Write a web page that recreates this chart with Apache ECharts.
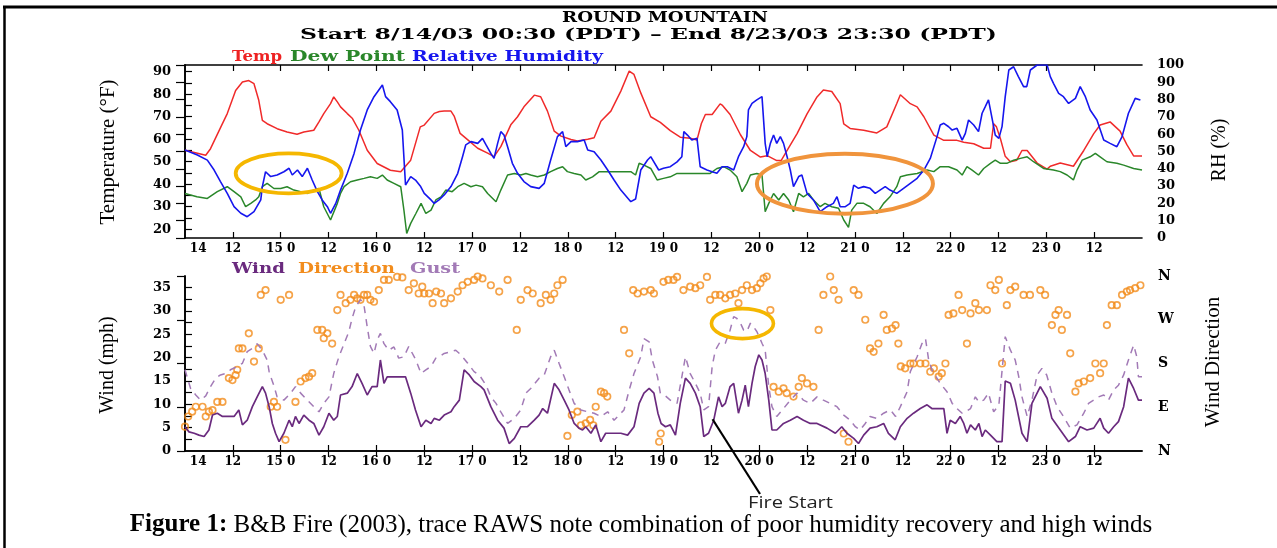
<!DOCTYPE html>
<html>
<head>
<meta charset="utf-8">
<script src="https://cdn.jsdelivr.net/npm/echarts@6/dist/echarts.min.js"></script>
<style>
  html, body { margin: 0; padding: 0; background: #fff; }
  #chart { width: 1277px; height: 548px; }
</style>
</head>
<body>
<div id="chart"></div>
<script>
// Hourly RAWS trace, Round Mountain, 8/14/03 00:30 – 8/23/03 23:30 (PDT).
// x = hours since 8/14 00:00.

const tempF = [[0,55.1],[5.2,52.9],[6.4,55.8],[9,65.5],[10.6,71.4],[12.7,81.7],[14.4,85.4],[16,86.1],[17.3,84.7],[18.5,77.3],[19.4,68.4],[20.6,66.9],[23.1,64.7],[25.6,63.2],[28.1,62.2],[29.8,63.2],[32.3,64],[33.6,67.7],[34.8,71.4],[36.5,75.8],[37.3,78.8],[38.2,76.6],[39,74.4],[40.7,71.4],[42,69.2],[43.6,64],[45.7,55.1],[48.2,49.2],[51.5,46.2],[54.1,45.5],[56.6,50.7],[59,65.5],[60,66.3],[62.5,71.5],[63.8,72.3],[65,72.5],[66.7,72.5],[67.5,70.3],[69,62.6],[71,59.6],[73.4,56],[75.9,53.8],[77.5,52.3],[79.2,56.7],[81.7,66.4],[83.4,70],[85,74.4],[87.6,79.6],[89.2,78.9],[90.9,72.5],[92.6,63.6],[94.3,61.4],[96.8,59.9],[98.4,59.2],[101,60],[102.6,60.7],[104.3,68],[106.8,72.5],[109.3,81.4],[111.4,90.3],[112.6,88.8],[114.3,80.6],[116.8,70],[119.2,67.5],[121.7,63.8],[124.2,60.9],[126.7,60.4],[128.4,59.7],[129.5,67],[130.5,71],[132.2,71],[134.2,75.7],[134.8,75],[136.7,71],[139.3,62],[141.8,55],[144.3,52.1],[146,52.7],[148.4,50.5],[149.5,50.5],[151,55],[153.5,62.5],[156,71.3],[158.5,78.8],[160.1,81.9],[162.2,81.2],[164.3,75.8],[165.2,66.8],[166.8,64.8],[170.2,64],[173.5,62.8],[176,65.5],[178.5,75.9],[179.4,79.8],[181.9,75.8],[183.6,74.4],[185.3,70],[187.8,61.8],[190.3,59.5],[193.6,59.5],[195.3,58.7],[197.8,58],[200.3,56],[202,56],[202.8,66.9],[203.5,65.5],[204.5,60.2],[205.7,52.4],[207,50],[208.6,50.7],[209.9,55],[211.2,55],[213.7,49.4],[216.2,46.7],[217,48],[219.5,49.4],[222.8,48],[225.4,55],[227.9,62.5],[229.5,66.3],[232,67.7],[234.5,63.6],[236.2,57.6],[237.9,52.6],[240,52.6]];

const dewPointF = [[0,35.9],[3,34.4],[5.6,33.7],[8.1,36.7],[10.6,38.9],[12.3,36.7],[14,34.4],[15.2,30],[16.5,31.5],[17.7,33],[18.5,34.4],[19.4,38.9],[20.6,40.4],[22.3,38.1],[24,38.1],[25.6,38.9],[27.3,37.4],[29,36.7],[30.7,35.9],[32.3,37.4],[33.6,38.1],[34.8,30],[36.5,24.1],[38.2,31.5],[39,35.9],[39.9,38.9],[41.5,41.1],[43.2,41.9],[44.9,42.6],[46.5,43.3],[48.2,42.6],[49.5,44.1],[50.7,41.9],[52.4,40.4],[54.1,38.9],[54.9,28.5],[55.6,18.1],[56.6,22.6],[57.9,27],[59.2,31.5],[60.4,27],[61.7,28.5],[62.9,33],[64.2,34.4],[65.4,37.4],[67,36.7],[68.4,38.9],[70,40.4],[71.7,38.9],[73,39.6],[74.6,38.9],[75.9,35.9],[78,32.2],[79.2,37.4],[80.9,44.1],[82.6,44.8],[84.2,44.1],[85.5,44.8],[86.7,44.1],[88.4,43.3],[90.1,44.1],[91.7,45.6],[93.4,47],[94.7,47.8],[95.9,45.6],[97.6,44.8],[99.3,44.1],[100.5,41.9],[102.2,43.3],[103.9,45.6],[106,45.6],[108.5,45.6],[111.8,45.6],[113,44.1],[113.9,49.3],[115.1,48.5],[116.8,47],[118.4,41.9],[120,42.6],[121.7,43.3],[123.4,44.8],[125.2,44.8],[127.6,44.8],[129.2,44.8],[131.7,44.8],[133.4,47],[135.1,47.8],[136.7,46.3],[138.4,43.3],[139.7,36.7],[140.9,40.4],[141.8,44.1],[143.4,44.8],[144.7,44.1],[145.5,27.8],[146.4,31.5],[147.6,35.9],[148.9,33],[150.1,35.9],[151.4,33],[152.6,27.8],[153.9,35.9],[155.1,34.4],[156.4,35.9],[157.6,33],[159.3,30],[160.5,31.5],[162.2,30],[163.9,29.3],[165.2,24.1],[166.4,20.8],[167.2,28.5],[168.5,31.5],[170.2,31.5],[171.8,30],[173.5,27],[175.2,31.5],[176.8,34.4],[178.5,38.9],[179.4,43.3],[181.1,44.1],[183.6,44.8],[186.1,46.3],[187.8,45.6],[189.4,47.8],[191.5,47.8],[193.6,46.3],[194.9,44.1],[196.1,47.8],[197.4,46.3],[199,44.1],[200.3,47],[202,49.3],[203.2,50.7],[204.5,49.3],[206.1,49.3],[207.8,50.7],[209.5,51.5],[211.2,52.2],[212.8,50],[215.3,47],[217.8,46.3],[219.5,45.6],[221.2,44.1],[222.8,41.9],[223.7,46.3],[225,50.7],[227,52.2],[228.3,53.7],[229.5,52.2],[231.2,50],[233.7,49.3],[235.4,48.5],[237.9,47],[240,46.3]];

const relHumidity = [[0,50.9],[3.1,48],[5.6,45],[7.3,39.3],[8.9,32.6],[10.6,25.8],[12.3,18.1],[14,14.3],[15.6,12.3],[17.3,15.2],[19,22],[19.4,29.7],[20.2,38.3],[21.5,35.5],[23.1,36.4],[24.8,38.3],[26.1,40.3],[26.9,36.4],[28.2,39.3],[29.4,35.5],[30.7,40.3],[31.9,33.5],[33.2,26.8],[34.4,22],[35.7,18.1],[36.5,14.3],[37.8,20],[39,27.7],[40.7,37.4],[42.4,48.9],[44,62.4],[45.7,74],[47.4,81.7],[49.5,88.4],[50.3,81.7],[51.5,78.8],[53.2,74],[54.5,62.4],[55.3,30.6],[56.6,35.5],[57.8,33.5],[59.1,29.7],[60,25.8],[61.7,22],[62.5,20],[63.7,22],[65,24.9],[66.7,29.7],[68.4,37.4],[69.6,47],[70.4,53.8],[71.7,55.7],[73.4,54.7],[74.6,57.6],[75.5,53.8],[76.7,48.9],[77.5,46],[78.4,54.7],[79.2,61.5],[80,59.5],[80.9,52.8],[82.1,43.2],[83.4,37.4],[85,32.6],[86.7,29.7],[88.8,28.7],[90.1,31.6],[91.7,45.1],[93.4,58.6],[94.7,61.5],[95.5,52.8],[96.8,55.7],[98.4,55.7],[100.1,56.6],[101,50.9],[102.6,49.9],[104.3,45.1],[106,39.3],[107.6,33.5],[109.3,27.7],[111.8,21],[113,22.5],[114.3,39.3],[116,45.1],[116.8,47],[118.8,39.3],[120,40.3],[121.7,41.2],[123.4,44],[124.6,47],[125.1,61.5],[126,59.5],[127.1,56.6],[128.4,57.6],[129.2,41.2],[130.9,39.3],[132.2,38.3],[133.4,37.4],[134.7,41.2],[136,41.2],[137.6,39.3],[138.8,47],[140.1,52.8],[140.9,58.6],[141.3,74],[142.2,77.8],[143.4,79.8],[144.7,81.7],[145.5,54.7],[146,47],[146.8,54.7],[147.6,59.5],[148.4,54.7],[149.3,58.6],[150.1,54.7],[151,47],[151.8,39.3],[152.6,29.7],[153.9,35.5],[154.7,36.4],[156,25.8],[157.6,22],[159.3,15.2],[161,18.1],[162.6,20],[163.5,23.9],[164.3,18.1],[165.6,18.1],[166.8,20],[167.7,30.6],[168.9,28.7],[170.2,29.7],[171.8,28.7],[173.1,25.8],[174.3,27.7],[175.6,29.7],[176.8,27.7],[178.5,25.8],[180.2,28.7],[181.9,31.6],[183.6,34.5],[185.3,39.3],[186.9,46],[188.6,58.6],[189.4,65.3],[190.3,66.3],[191.5,64.3],[192.4,62.4],[193.6,63.4],[194.9,56.6],[195.7,60.5],[196.5,68.2],[197.8,65.3],[199,61.5],[199.9,72.1],[200.7,75.9],[201.5,79.8],[202.4,69.2],[203.2,59.5],[204.1,57.6],[204.9,64.4],[205.7,81.7],[206.6,97.1],[207.8,99],[209,93.3],[210.3,87.5],[211.1,87.5],[212,97.1],[213.7,100],[216.2,100],[217,93.3],[217.8,89.4],[219.1,83.6],[220.3,81.7],[221.6,77.8],[223.3,80.7],[224.5,87.5],[225.8,81.7],[227,74],[228.7,68.2],[230.4,56.6],[232,54.7],[233.7,52.8],[235,58.6],[236.6,72.1],[238.3,80.7],[239.6,79.8]];

const windMph = [[0,5.2],[1,4.1],[2.3,3.8],[3.5,3.4],[4.8,3.1],[6,4.5],[6.9,7.7],[8.1,8.1],[9.4,7.4],[10.6,7.4],[12.3,7.4],[13.5,8.8],[14.4,5.6],[15.6,6.6],[16.9,9.5],[18.1,11.6],[19.4,13.8],[20.2,12.4],[21.1,9.5],[21.9,5.9],[22.7,3.8],[23.6,2],[24.8,3.8],[26.1,6.6],[26.9,5.2],[27.7,7.4],[28.6,5.9],[29.8,7.7],[31.1,6.6],[32.3,5.9],[33.6,3.4],[34.8,5.2],[36.1,8.1],[37.3,6.6],[38.2,7.4],[39,12],[40.7,12.4],[41.9,13.8],[43.2,16.6],[44.4,14.5],[45.7,12],[46.9,13.8],[48.2,13.8],[49,19.5],[49.9,14.5],[50.7,15.9],[52,15.9],[54.1,15.9],[55.3,15.9],[56.6,12.4],[57.8,8.8],[59.2,5.2],[60.4,6.6],[61.7,5.9],[62.5,7],[63.8,6.6],[65,7.7],[66.7,8.4],[67.5,9.5],[68.8,10.9],[70,17.4],[71.3,16.3],[72.5,14.9],[74.2,13.8],[75,13.1],[76.7,9.5],[78.4,6.6],[80,4.9],[81.3,1.6],[82.6,2.7],[84.2,5.2],[85.9,5.2],[87.6,6.6],[88.8,7.7],[89.7,9.1],[90.9,8.1],[92.6,14.5],[93.8,13.1],[95.1,10.9],[96.3,8.8],[97.6,5.9],[98.8,4.9],[99.7,4.5],[100.5,5.2],[101.8,3.8],[103,5.6],[104.3,2],[105.5,3.8],[107.6,3.8],[109.3,3.8],[111,3.4],[112.6,5.2],[113.9,10.2],[115.1,12.4],[116.4,13.4],[117.6,12.4],[118.6,8.1],[119.4,5.9],[120.5,5.2],[121.7,5.6],[123,3.4],[124.2,10.2],[125.5,15.6],[126.7,14.5],[128,12.4],[129.2,9.5],[130.1,3.1],[131.3,3.8],[132.6,6.6],[133.8,11.6],[134.7,9.5],[135.5,10.2],[136.7,13.8],[137.6,14.5],[138.8,8.1],[139.7,10.9],[140.5,14.1],[141.3,9.5],[142.2,14.5],[143,18.1],[143.9,20.6],[144.7,19.5],[145.5,16.6],[146.4,10.9],[147.2,4.5],[148.4,4.5],[150.1,5.9],[151.8,6.6],[153.5,7.4],[155.1,6.6],[156.8,5.9],[158.5,5.9],[161,4.9],[163.1,3.8],[164.7,5.2],[166,3.8],[167.7,2.7],[168.9,1.6],[170.2,3.4],[171.8,4.9],[173.5,5.2],[175.2,5.9],[176.4,3.8],[178.1,2.4],[179.4,5.2],[181.1,7],[182.7,8.1],[184.4,9.1],[186.1,9.9],[187.3,9.1],[188.6,9.1],[190.3,9.1],[191.1,3.8],[191.9,6.6],[193.2,5.9],[194.4,7.4],[195.3,5.9],[196.1,3.8],[197,5.6],[198.2,4.5],[199.1,5.9],[199.9,3.1],[200.7,4.5],[202,3.4],[203.6,2],[204.9,2],[205.7,15],[207,14.5],[208.2,10.9],[209.9,3.8],[211.2,2],[212.4,10.2],[214.5,13.8],[216.2,11.3],[217.4,7],[219.5,4.5],[221.6,2],[223.3,3.1],[224.5,5.2],[226.2,4.5],[227.9,4.9],[229.5,7],[230.4,4.9],[231.6,3.8],[232.9,5.2],[234.1,6.3],[235.4,9.5],[236.6,15.6],[237.9,13.4],[239.1,10.9],[240,10.9]];

const gustMph = [[0,17.4],[1.4,13.4],[2.7,12],[3.9,10.9],[5.2,11.8],[6.4,13.8],[7.7,15.6],[8.9,16.3],[10.2,16.6],[11.4,17.4],[13.1,18.1],[14.4,18.8],[15.6,21.3],[16.9,22],[18.1,23],[19.4,21.6],[20.6,19.5],[21.1,17],[21.5,15.9],[22.3,14],[23.1,11.6],[24.8,10.9],[26.5,12.4],[27.7,13.8],[29,12.4],[30.7,10.9],[32.3,9.5],[33.6,8.4],[34.8,10.2],[36.1,11.6],[37.3,16.6],[38.6,20.2],[39.9,23],[41.1,25.6],[41.9,28.4],[42.8,30.9],[44,32.4],[44.8,31.7],[45.7,26.6],[46.5,22.4],[47.4,20.9],[48.2,23.8],[49,25.2],[49.9,23],[51.1,21.6],[52.4,22.3],[53.6,19.9],[54.9,20.2],[56.1,22.4],[57.9,19.5],[59.2,16.6],[60.4,17.4],[61.7,18.1],[62.9,19.9],[63.8,20.2],[65,20.9],[66.7,21.3],[67.9,21.6],[69.2,20.6],[70.9,18.8],[72.5,17],[73.8,16.3],[75.5,14.1],[76.7,11.6],[78,10.2],[79.2,8.4],[80.9,5.9],[82.6,7],[84.2,8.8],[85.5,12.4],[86.7,13.4],[88.8,15.6],[90.1,16.3],[91.7,20.2],[92.6,21.6],[93.8,18.8],[95.1,15.9],[96.3,13.1],[97.6,10.2],[99.3,8.8],[101,8.4],[102.6,8.1],[104.3,7.4],[106,8.4],[107.6,6.6],[110.1,8.8],[111.4,13.1],[112.6,16.6],[114.3,20.2],[115.1,24.1],[116.4,23.4],[117.2,19.5],[118.5,15.9],[119.2,12.4],[120.5,11.8],[121.7,10.9],[123.4,10.2],[124.6,15.9],[125.5,20.2],[126.7,16.6],[128,14.5],[129.2,12.4],[130.1,8.8],[131.3,9.5],[132.2,18.1],[133,21.6],[134.2,23.4],[135.5,23.1],[136.7,25.9],[137.6,28.8],[138.4,28.4],[139.3,27.4],[140.1,25.9],[140.9,25.6],[141.8,27.4],[142.6,26.6],[143.4,25.6],[144.7,23.1],[145.5,21.6],[146.4,13.8],[147.2,9.5],[148.4,7.4],[150.1,9.1],[151.8,10.9],[153.5,12.4],[155.1,10.9],[156.8,10.2],[158.5,11.6],[160.1,10.9],[161.8,10.2],[163.5,9.5],[165.2,7.7],[166.8,6.6],[168.1,5.2],[169.3,4.5],[170.6,5.9],[171.8,7.4],[173.5,7],[175.2,8.1],[176.9,8.8],[178.2,7.4],[179.4,9.5],[181.1,12.7],[181.9,17],[183.6,20.2],[184.8,23],[185.7,24.1],[186.5,19.5],[187.3,17.4],[188.2,16.1],[189.4,14.5],[191.1,12.7],[192.4,10.2],[193.6,9.1],[194.9,8.1],[195.7,8.4],[197,9.1],[198.2,11.6],[199.1,10.5],[200.3,10.9],[201.5,12.4],[202.8,8.4],[204.1,9.8],[205.7,24.5],[207,21.6],[208.2,19.5],[209.1,15.9],[209.9,11.6],[211.2,7.4],[212.4,10.9],[213.7,16.3],[214.9,17.7],[216.1,16.3],[217.4,12.4],[218.7,9.5],[220.3,7.4],[222,4.9],[223.7,5.6],[225.4,8.1],[226.6,10.2],[227.9,10.9],[229.1,11.6],[230.4,12],[231.6,10.9],[232.9,13.1],[234.1,14.1],[235.4,16.3],[236.6,19.5],[237.9,22.7],[238.7,20.2],[239.1,15.9],[240,15.9]];

// wind direction, degrees (0 = N, 90 = E, 180 = S, 270 = W, 360 = N)
const windDirDeg = [[0,50],[0.8,71],[1.8,81],[2.7,91],[4.4,91],[5.2,71],[6,81],[6.9,84],[8.1,101],[9.4,101],[11,150],[11.9,146],[12.7,156],[13.1,167],[13.5,211],[14.4,211],[16,242],[17.3,184],[18.5,211],[19,321],[20.2,331],[21.5,91],[22.3,101],[23.1,91],[24,311],[25.2,23],[26.1,321],[27.7,101],[29,143],[30.2,150],[31.1,153],[31.9,160],[33.2,249],[34.4,249],[34.8,232],[35.7,242],[36.9,221],[38.2,290],[39,321],[40.3,304],[41.5,311],[42.4,321],[43.2,314],[44,311],[44.9,321],[45.7,321],[46.5,311],[47.4,307],[48.6,331],[49.9,352],[51.1,352],[53.2,358],[54.5,357],[56.1,331],[57.4,345],[58.6,324],[59.5,338],[60,324],[61.2,324],[62.1,304],[63,328],[64.2,324],[65,304],[66.7,314],[68.4,328],[69.6,341],[70.9,348],[72.5,352],[73.4,359],[74.6,355],[76.7,341],[78.8,328],[80.9,352],[83.2,249],[84.2,311],[85.9,331],[87.2,324],[89.2,304],[90.5,321],[91.7,311],[92.6,324],[93.4,341],[94.7,352],[95.9,31],[97,74],[98.4,81],[99.3,53],[100.5,57],[101.6,64],[102.4,53],[103,91],[104.3,122],[105.1,119],[105.9,112],[110.1,249],[111.4,201],[112.4,331],[113.5,324],[115.1,328],[116.8,331],[117.6,324],[118.9,19],[119.3,36],[120,348],[121.2,352],[122.5,352],[123.4,358],[125,331],[126.7,338],[128,335],[129.2,341],[130.9,358],[131.7,311],[133,321],[134.2,321],[135.5,314],[136.7,321],[138,324],[138.8,304],[139.7,331],[140.9,341],[142.2,331],[143.4,335],[144.3,345],[145.1,355],[145.9,359],[146.8,290],[147.6,132],[148.9,122],[150.1,129],[150.9,119],[152.6,112],[153.9,132],[154.7,150],[156,139],[157.6,132],[158.9,249],[160.1,321],[161.8,359],[162.7,331],[163.9,311],[165.2,36],[166.4,19],[167.7,331],[168.9,321],[170.6,270],[171.8,211],[172.7,204],[173.9,221],[175.2,280],[176,249],[177.3,252],[178.2,259],[178.9,221],[179.5,174],[180.6,170],[181.9,180],[182.7,180],[184.4,180],[185.7,180],[186.9,163],[187.8,170],[189,153],[189.8,160],[190.7,180],[191.5,280],[192.7,283],[194,321],[194.9,290],[196.1,221],[197,283],[198.2,304],[199.1,290],[201.1,290],[202,341],[203.2,331],[204.1,352],[204.9,180],[206.1,300],[207,331],[208.2,338],[210.3,321],[211.9,321],[214.5,331],[215.7,321],[217.4,259],[218.3,280],[219.1,290],[219.9,249],[221.2,280],[222,201],[223.3,122],[224.1,139],[225.4,143],[227,150],[228.3,180],[229.5,160],[230.4,180],[231.2,259],[232.4,300],[233.7,300],[235,321],[236.2,328],[237,331],[238.3,335],[239.6,341]];

// time axis labels (hours since 8/14 00:00)
const labelHours = [3.3, 12, 24, 36, 48, 60, 72, 84, 96, 108, 120, 132, 144, 156, 168, 180, 192, 204, 216, 228];
const labelTexts = ['14', '12', '15 0', '12', '16 0', '12', '17 0', '12', '18 0', '12', '19 0', '12', '20 0', '12', '21 0', '12', '22 0', '12', '23 0', '12'];
const tickHours = [12, 24, 36, 48, 60, 72, 84, 96, 108, 120, 132, 144, 156, 168, 180, 192, 204, 216, 228];

const tempLabels = [20, 30, 40, 50, 60, 70, 80, 90];
const tempTicks = [20, 25, 30, 35, 40, 45, 50, 55, 60, 65, 70, 75, 80, 85, 90];
const windLabels = [0, 5, 10, 15, 20, 25, 30, 35];
const windTicks = [2.5, 5, 7.5, 10, 12.5, 15, 17.5, 20, 22.5, 25, 27.5, 30, 32.5, 35];
const compassLabels = ['N', 'E', 'S', 'W', 'N'];

const TICK_FONT = { fontFamily: 'DejaVu Serif', fontWeight: 'bold', fontSize: 13, color: '#000' };
const AXIS_LINE = { show: true, lineStyle: { color: '#000', width: 1.6 } };
const TICK_LINE = { color: '#000', width: 1.2 };

const chart = echarts.init(document.getElementById('chart'), null, { renderer: 'canvas' });

function timeAxis(grid, pos) {
  const bottom = pos === 'bottom';
  return {
    type: 'value', gridIndex: grid, position: pos, min: 0, max: 240,
    axisLine: AXIS_LINE,
    axisTick: { show: true, inside: true, length: 6, customValues: tickHours, lineStyle: TICK_LINE },
    axisLabel: bottom ? Object.assign({
      show: true, margin: 5, customValues: labelHours,
      formatter: v => { const i = labelHours.indexOf(v); return i >= 0 ? labelTexts[i] : ''; }
    }, TICK_FONT, { fontSize: 12 }) : { show: false },
    splitLine: { show: false }
  };
}

const option = {
  animation: false,
  backgroundColor: '#fff',
  grid: [
    { left: 185, top: 65, width: 957, height: 173 },
    { left: 185, top: 276, width: 957, height: 175 }
  ],
  xAxis: [
    timeAxis(0, 'bottom'),
    timeAxis(0, 'top'),
    timeAxis(1, 'bottom'),
    timeAxis(1, 'top')
  ],
  yAxis: [
    { type: 'value', gridIndex: 0, position: 'left', min: 16.1, max: 93,
      axisLine: AXIS_LINE,
      axisTick: { show: true, inside: true, length: 7, customValues: tempTicks, lineStyle: TICK_LINE },
      axisLabel: Object.assign({ customValues: tempLabels, margin: 14 }, TICK_FONT),
      splitLine: { show: false } },
    { type: 'value', gridIndex: 0, position: 'right', min: 0, max: 100, interval: 10,
      axisLine: AXIS_LINE,
      axisTick: { show: true, inside: true, length: 9, lineStyle: TICK_LINE },
      axisLabel: Object.assign({ margin: 15 }, TICK_FONT),
      splitLine: { show: false } },
    { type: 'value', gridIndex: 1, position: 'left', min: 0, max: 37.5,
      axisLine: AXIS_LINE,
      axisTick: { show: true, inside: true, length: 7, customValues: windTicks, lineStyle: TICK_LINE },
      axisLabel: Object.assign({ customValues: windLabels, margin: 14 }, TICK_FONT),
      splitLine: { show: false } },
    { type: 'value', gridIndex: 1, position: 'right', min: 0, max: 360, interval: 90,
      axisLine: AXIS_LINE,
      axisTick: { show: true, inside: true, length: 8, lineStyle: TICK_LINE },
      axisLabel: Object.assign({ margin: 16, formatter: v => compassLabels[Math.round(v / 90)] }, TICK_FONT, { fontSize: 14 }),
      splitLine: { show: false } }
  ],
  series: [
    { name: 'Temp', type: 'line', xAxisIndex: 0, yAxisIndex: 0, data: tempF, symbol: 'none',
      lineStyle: { color: '#f02a2a', width: 1.5 } },
    { name: 'Dew Point', type: 'line', xAxisIndex: 0, yAxisIndex: 0, data: dewPointF, symbol: 'none',
      lineStyle: { color: '#2a872a', width: 1.5 } },
    { name: 'Relative Humidity', type: 'line', xAxisIndex: 0, yAxisIndex: 1, data: relHumidity, symbol: 'none',
      lineStyle: { color: '#1616ee', width: 1.6 } },
    { name: 'Gust', type: 'line', xAxisIndex: 2, yAxisIndex: 2, data: gustMph, symbol: 'none',
      lineStyle: { color: '#a27ab6', width: 1.5, type: [7, 6] } },
    { name: 'Wind', type: 'line', xAxisIndex: 2, yAxisIndex: 2, data: windMph, symbol: 'none',
      lineStyle: { color: '#6a2a7e', width: 1.7 } },
    { name: 'Direction', type: 'scatter', xAxisIndex: 2, yAxisIndex: 3, data: windDirDeg,
      symbol: 'circle', symbolSize: 6.5,
      itemStyle: { color: 'rgba(255,255,255,0)', borderColor: '#f28c1c', borderWidth: 1.7 } }
  ]
};
chart.setOption(option);

// ---- text and annotation overlay ----
const measureCtx = document.createElement('canvas').getContext('2d');
function widthOf(str, weight, size, family) {
  measureCtx.font = `${weight} ${size}px ${family}`;
  return measureCtx.measureText(str).width;
}
// Text stretched horizontally to span [left, right], centred vertically on y.
function spanText(str, left, right, y, size, family, weight, color) {
  const w = widthOf(str, weight, size, family);
  return {
    type: 'text', x: (left + right) / 2, y, scaleX: (right - left) / w, silent: true,
    style: { text: str, fontSize: size, fontFamily: family, fontWeight: weight, fill: color,
      textAlign: 'center', textVerticalAlign: 'middle', align: 'center', verticalAlign: 'middle' }
  };
}
function vText(str, x, y, size, family) {
  return {
    type: 'text', x, y, rotation: Math.PI / 2, silent: true,
    style: { text: str, fontSize: size, fontFamily: family, fill: '#000',
      textAlign: 'center', textVerticalAlign: 'middle', align: 'center', verticalAlign: 'middle' }
  };
}
function ring(cx, cy, rx, ry, color, w) {
  return { type: 'ellipse', silent: true, z: 50, shape: { cx, cy, rx, ry },
    style: { fill: 'none', stroke: color, lineWidth: w } };
}

const HF = 'DejaVu Serif';
const toTop = p => chart.convertToPixel({ xAxisIndex: 0, yAxisIndex: 1 }, p);
const toWind = p => chart.convertToPixel({ xAxisIndex: 2, yAxisIndex: 2 }, p);

const e1 = toTop([26, 37.4]);
const e2 = toTop([165.5, 31.4]);
const e3 = toWind([139.8, 27.3]);
const fire = toWind([132.3, 6.8]);

chart.setOption({
  graphic: [
    // page frame
    { type: 'line', silent: true, shape: { x1: 3, y1: 7, x2: 1277, y2: 7 }, style: { stroke: '#000', lineWidth: 3 } },
    { type: 'line', silent: true, shape: { x1: 4.5, y1: 6, x2: 4.5, y2: 548 }, style: { stroke: '#000', lineWidth: 2.5 } },

    // titles
    spanText('ROUND MOUNTAIN', 562, 768, 18, 15, HF, 'bold', '#000'),
    spanText('Start 8/14/03 00:30 (PDT) \u2013 End 8/23/03 23:30 (PDT)', 300, 997, 35, 15, HF, 'bold', '#000'),

    // series keys
    spanText('Temp', 232, 282, 57, 14, HF, 'bold', '#ee2222'),
    spanText('Dew Point', 290, 405, 57, 14, HF, 'bold', '#2a872a'),
    spanText('Relative Humidity', 412, 603, 57, 14, HF, 'bold', '#1616ee'),
    spanText('Wind', 232, 285, 269, 14, HF, 'bold', '#6a2a7e'),
    spanText('Direction', 298, 395, 269, 14, HF, 'bold', '#f28c1c'),
    spanText('Gust', 410, 460, 269, 14, HF, 'bold', '#a27ab6'),

    // axis titles (read bottom to top)
    vText('Temperature (\u00B0F)', 108, 152, 21, 'Liberation Serif'),
    vText('Wind (mph)', 108, 365, 20, 'Liberation Serif'),
    vText('RH (%)', 1220, 150, 20, 'Liberation Serif'),
    vText('Wind Direction', 1213, 362, 21, 'Liberation Serif'),

    // highlighted periods
    ring(e1[0], e1[1], 53, 20, '#f5b700', 3.8),
    ring(e2[0], e2[1], 88, 30, '#f0943c', 4),
    ring(e3[0], e3[1], 31, 15, '#f5b700', 3.6),

    // fire start pointer
    { type: 'line', silent: true, z: 60, shape: { x1: fire[0], y1: fire[1], x2: 760, y2: 494 },
      style: { stroke: '#000', lineWidth: 2.2 } },
    spanText('Fire Start', 748, 833, 503, 16, 'Open Sans', 'normal', '#222'),

    // caption
    { type: 'text', silent: true, x: 641, y: 525,
      style: {
        text: '{b|Figure 1:} B&B Fire (2003), trace RAWS note combination of poor humidity recovery and high winds',
        fontSize: 25, fontFamily: 'Liberation Serif', fill: '#000',
        textAlign: 'center', textVerticalAlign: 'middle', align: 'center', verticalAlign: 'middle',
        rich: { b: { fontSize: 25, fontFamily: 'Liberation Serif', fontWeight: 'bold', fill: '#000' } }
      } }
  ]
});
</script>
</body>
</html>
